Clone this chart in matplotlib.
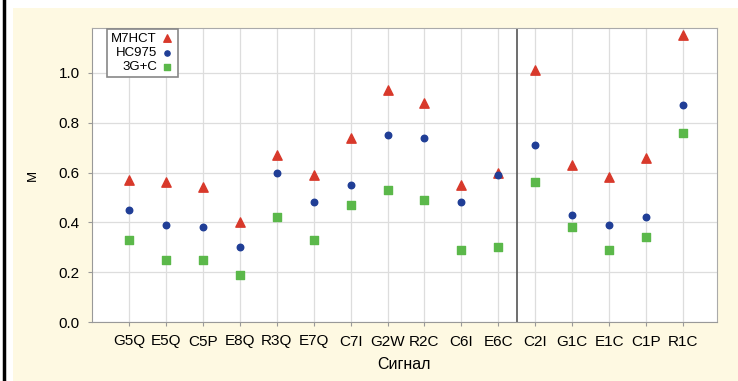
import matplotlib.pyplot as plt
from matplotlib.patches import Rectangle
from matplotlib.lines import Line2D

plt.rcParams['font.family'] = ['Liberation Sans', 'DejaVu Sans']

signals = ['G5Q', 'E5Q', 'C5P', 'E8Q', 'R3Q', 'E7Q', 'C7I', 'G2W', 'R2C',
           'C6I', 'E6C', 'C2I', 'G1C', 'E1C', 'C1P', 'R1C']
m7hct = [0.57, 0.56, 0.54, 0.40, 0.67, 0.59, 0.74, 0.93, 0.88,
         0.55, 0.60, 1.01, 0.63, 0.58, 0.66, 1.15]
hc975 = [0.45, 0.39, 0.38, 0.30, 0.60, 0.48, 0.55, 0.75, 0.74,
         0.48, 0.59, 0.71, 0.43, 0.39, 0.42, 0.87]
g3c = [0.33, 0.25, 0.25, 0.19, 0.42, 0.33, 0.47, 0.53, 0.49,
       0.29, 0.30, 0.56, 0.38, 0.29, 0.34, 0.76]
yticks = [0.0, 0.2, 0.4, 0.6, 0.8, 1.0]

fig = plt.figure(figsize=(7.38, 3.81), dpi=100)
# cream page background and black left rule
fig.patches.append(Rectangle((13/738, 0), 1, 1 - 8/381, transform=fig.transFigure,
                             facecolor='#fef9e2', edgecolor='none', zorder=-10))
fig.lines.append(Line2D([4/738, 4/738], [0, 1], transform=fig.transFigure,
                        color='black', lw=2.5, zorder=-5))

ax = fig.add_axes([92/738, 1 - 322/381, 625/738, 294/381])
ax.set_facecolor('white')
x = range(len(signals))
ax.scatter(x, m7hct, marker='^', s=45, color='#d8392b', label='M7HCT', zorder=3)
ax.scatter(x, hc975, marker='o', s=22, color='#203e96', label='HC975', zorder=3)
ax.scatter(x, g3c, marker='s', s=30, color='#5bb84a', label='3G+C', zorder=3)

ax.axvline(10.5, color='#555555', lw=1.2, zorder=2)
ax.set_xlim(-1, 15.92)
ax.set_ylim(0, 1.18)
ax.set_xticks(list(x))
ax.set_xticklabels(signals)
ax.set_yticks(yticks)
ax.set_yticklabels(['%.1f' % v for v in yticks])
ax.grid(True, color='#dddddd', lw=0.9, zorder=0)
ax.set_axisbelow(True)
ax.tick_params(labelsize=11, length=3, color='#999999', pad=6)
for s in ax.spines.values():
    s.set_color('#aaaaaa')
ax.spines['left'].set_color('#999999')
ax.spines['bottom'].set_color('#999999')
ax.set_xlabel('Сигнал', fontsize=11.5, labelpad=6)
ax.set_ylabel('M', fontsize=9.5, labelpad=14)

leg = ax.legend(loc='upper left', bbox_to_anchor=(0.014, 1.02), markerfirst=False,
                fontsize=9.5, handletextpad=0.3, borderpad=0.3, labelspacing=0.15,
                handlelength=1.0, fancybox=False, framealpha=1, edgecolor='#888888',
                markerscale=0.8)
leg.get_frame().set_linewidth(1.2)

fig.savefig('out.png', dpi=100)
